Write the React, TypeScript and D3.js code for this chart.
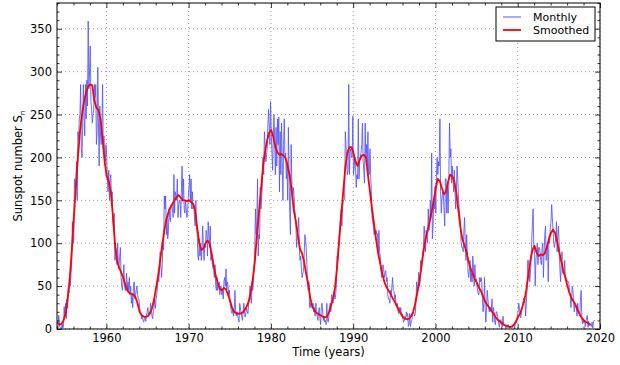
import React, { useRef, useEffect } from "react";
import * as d3 from "d3";

const W = 620;
const H = 365;
const plot = { left: 57, right: 600, top: 3, bottom: 329 };

const startYear = 1954;

// monthly mean sunspot number, one row per year, from Jan 1954
const monthly = [
  0.3, 1.0, 16.0, 7.3, 2.1, 0.8, 0.3, 6.3, 0.9, 3.5, 25.9, 14.9,
  30, 12, 35, 24, 50, 42, 60, 50, 66, 80, 125, 100,
  105, 175, 165, 170, 195, 150, 230, 220, 245, 250, 285, 210,
  200, 240, 285, 245, 225, 285, 245, 290, 260, 359, 280, 300,
  330, 265, 255, 240, 250, 255, 285, 270, 285, 215, 230, 305,
  240, 190, 260, 225, 215, 235, 285, 210, 225, 205, 195, 215,
  200, 175, 160, 185, 150, 175, 180, 145, 160, 125, 120, 135,
  80, 95, 90, 75, 100, 70, 75, 85, 95, 60, 50, 45,
  60, 75, 50, 45, 50, 65, 45, 55, 45, 60, 40, 50,
  30, 40, 25, 50, 55, 35, 40, 45, 50, 40, 35, 35,
  25, 20, 18, 12, 15, 10, 8, 12, 15, 9, 16, 20,
  25, 15, 20, 18, 30, 25, 15, 12, 20, 25, 35, 24,
  35, 40, 50, 60, 55, 70, 90, 75, 60, 75, 100, 92,
  155, 140, 155, 110, 130, 105, 115, 140, 130, 125, 145, 145,
  140, 130, 180, 135, 160, 155, 150, 175, 130, 145, 150, 150,
  130, 165, 190, 150, 175, 140, 135, 150, 140, 130, 135, 153,
  165, 180, 150, 175, 140, 160, 140, 145, 130, 120, 150, 121,
  110, 85, 80, 105, 85, 100, 80, 95, 120, 95, 80, 98,
  95, 115, 110, 85, 125, 110, 95, 120, 80, 90, 75, 71,
  70, 60, 75, 50, 45, 60, 45, 50, 55, 40, 50, 49,
  40, 45, 35, 55, 60, 50, 70, 45, 55, 50, 40, 45,
  30, 25, 20, 18, 25, 15, 20, 45, 22, 15, 20, 15,
  12, 8, 30, 25, 18, 15, 10, 20, 30, 20, 14, 19,
  25, 20, 18, 30, 35, 50, 35, 30, 55, 45, 55, 74,
  95, 140, 110, 125, 175, 85, 110, 105, 165, 140, 155, 167,
  200, 180, 230, 215, 195, 200, 210, 235, 256, 240, 215, 265,
  230, 205, 185, 225, 250, 220, 180, 235, 190, 245, 215, 247,
  160, 230, 180, 240, 195, 150, 215, 245, 200, 205, 175, 192,
  150, 235, 180, 135, 110, 215, 175, 150, 165, 160, 140, 134,
  120, 95, 110, 115, 130, 95, 80, 85, 70, 60, 65, 67,
  85, 110, 105, 95, 75, 50, 45, 55, 25, 30, 25, 26,
  25, 30, 20, 25, 15, 30, 20, 15, 10, 20, 25, 12,
  5, 25, 30, 20, 10, 15, 8, 10, 5, 30, 12, 8,
  15, 25, 30, 20, 40, 35, 30, 40, 45, 35, 40, 52,
  85, 80, 100, 110, 120, 130, 140, 120, 140, 150, 150, 151,
  230, 215, 195, 180, 185, 285, 180, 205, 210, 200, 200, 248,
  180, 190, 200, 185, 165, 180, 175, 245, 175, 200, 200, 206,
  215, 240, 195, 185, 170, 240, 200, 215, 190, 230, 180, 180,
  210, 180, 160, 130, 125, 120, 110, 115, 110, 115, 110, 111,
  90, 115, 90, 85, 70, 60, 65, 75, 70, 60, 65, 68,
  55, 60, 40, 35, 35, 30, 45, 40, 50, 60, 45, 44,
  35, 40, 30, 25, 30, 20, 18, 25, 20, 25, 15, 18,
  12, 8, 10, 15, 12, 20, 15, 18, 3, 5, 18, 3,
  8, 10, 15, 20, 20, 15, 18, 30, 55, 40, 50, 66,
  50, 55, 80, 70, 80, 90, 95, 120, 110, 90, 115, 105,
  100, 140, 115, 120, 150, 130, 205, 105, 120, 150, 140, 166,
  135, 180, 200, 180, 195, 190, 245, 160, 135, 150, 160, 157,
  140, 120, 175, 175, 135, 170, 135, 175, 240, 200, 210, 170,
  190, 175, 160, 185, 160, 140, 160, 190, 175, 155, 140, 133,
  120, 100, 95, 95, 90, 115, 130, 100, 80, 110, 90, 67,
  60, 70, 80, 55, 65, 55, 85, 70, 50, 75, 60, 59,
  50, 45, 40, 40, 60, 55, 60, 55, 35, 20, 30, 60,
  25, 8, 25, 45, 35, 25, 20, 25, 25, 20, 35, 8,
  25, 20, 8, 5, 20, 20, 15, 10, 5, 2, 10, 11,
  5, 3, 15, 5, 4, 5, 1, 1, 2, 5, 5, 1,
  2, 2, 1, 1, 3, 5, 5, 0, 7, 7, 7, 18,
  20, 30, 25, 15, 13, 20, 25, 30, 36, 35, 35, 15,
  30, 45, 80, 80, 70, 55, 65, 80, 105, 125, 140, 95,
  90, 50, 80, 90, 100, 75, 95, 95, 90, 80, 75, 94,
  100, 60, 90, 110, 120, 80, 90, 100, 55, 105, 100, 118,
  125, 145, 130, 115, 100, 95, 100, 105, 125, 90, 110, 120,
  95, 70, 55, 75, 90, 65, 65, 65, 80, 60, 60, 58,
  55, 55, 55, 40, 40, 25, 35, 50, 45, 30, 20, 28,
  25, 25, 15, 30, 20, 20, 15, 35, 45, 12, 6, 12,
  7, 10, 3, 9, 13, 16, 2, 9, 4, 4, 6, 3,
  8, 1, 9, 10, 10,
];

// 13-month smoothed, read every 3 months (Jan, Apr, Jul, Oct), from Jan 1954
const smoothed = [
  8, 5, 6, 10,
  18, 35, 58, 90,
  130, 165, 200, 230,
  250, 266, 276, 283,
  285, 284, 266, 258,
  255, 245, 222, 195,
  178, 172, 160, 132,
  100, 80, 72, 66,
  60, 52, 45, 42,
  41, 40, 37, 30,
  20, 16, 14.5, 14.2,
  15, 18, 24, 34,
  48, 62, 80, 98,
  115, 128, 136, 142,
  146, 150, 154, 156,
  153, 150, 150, 149,
  150, 148, 146, 138,
  118, 100, 92, 94,
  100, 103, 100, 88,
  74, 62, 54, 47,
  45, 48, 46, 40,
  33, 24, 20, 18.5,
  17.8, 18, 19, 22,
  26, 32, 42, 58,
  78, 108, 135, 162,
  190, 207, 220, 229,
  232, 224, 212, 206,
  203, 204, 202, 199,
  190, 178, 160, 138,
  125, 108, 93, 88,
  78, 64, 52, 36,
  26, 21, 19, 17,
  16, 14.5, 13.5, 14,
  19, 27, 35, 48,
  72, 102, 132, 160,
  188, 205, 212, 212,
  205, 195, 190, 197,
  202, 203, 200, 180,
  160, 140, 122, 104,
  88, 76, 64, 55,
  49, 45, 41, 36,
  32, 27, 22, 18,
  14, 12, 11.2, 12,
  15, 20, 30, 42,
  55, 72, 90, 105,
  115, 125, 137, 150,
  165, 175, 172, 164,
  157, 160, 172, 180,
  178, 172, 158, 138,
  118, 104, 97, 89,
  78, 70, 64, 58,
  54, 48, 44, 38,
  32, 28, 25, 21,
  18, 14, 11, 9,
  7, 5, 4, 3,
  2.2, 3, 5, 9,
  14, 18, 25, 33,
  45, 63, 80, 92,
  97, 89, 85, 87,
  86, 88, 96, 105,
  112, 116, 112, 102,
  90, 79, 68, 60,
  50, 42, 36, 32,
  28, 22, 17, 13,
  10, 8, 7, 5,
];

const xTicks = [1960, 1970, 1980, 1990, 2000, 2010, 2020];
const yTicks = [0, 50, 100, 150, 200, 250, 300, 350];

const FONT = "DejaVu Sans, sans-serif";

export default function App() {
  const axesRef = useRef<SVGGElement>(null);

  const x = d3.scaleLinear().domain([1954, 2020]).range([plot.left, plot.right]);
  const y = d3.scaleLinear().domain([0, 380]).range([plot.bottom, plot.top]);

  const monthlyPts: [number, number][] = monthly.map((v, i) => [startYear + (i + 0.5) / 12, v]);
  const smoothPts: [number, number][] = smoothed.map((v, i) => [startYear + (i * 3 + 0.5) / 12, v]);

  const line = d3
    .line<[number, number]>()
    .x((d) => x(d[0]))
    .y((d) => y(d[1]));

  useEffect(() => {
    const g = d3.select(axesRef.current);
    g.selectAll("*").remove();

    const xMinor = d3.range(1954, 2021, 2).filter((v) => v % 10 !== 0);
    const yMinor = d3.range(0, 381, 10).filter((v) => v % 50 !== 0);

    const bottom = g
      .append("g")
      .attr("transform", `translate(0,${plot.bottom})`)
      .call(d3.axisBottom(x).tickValues(xTicks).tickFormat(d3.format("d")).tickSize(-5).tickPadding(5));
    g.append("g")
      .attr("transform", `translate(0,${plot.bottom})`)
      .call(d3.axisBottom(x).tickValues(xMinor).tickFormat(() => "").tickSize(-2.5));
    g.append("g")
      .attr("transform", `translate(0,${plot.top})`)
      .call(d3.axisTop(x).tickValues(xTicks).tickFormat(() => "").tickSize(-5));
    g.append("g")
      .attr("transform", `translate(0,${plot.top})`)
      .call(d3.axisTop(x).tickValues(xMinor).tickFormat(() => "").tickSize(-2.5));

    const left = g
      .append("g")
      .attr("transform", `translate(${plot.left},0)`)
      .call(d3.axisLeft(y).tickValues(yTicks).tickSize(-5).tickPadding(5));
    g.append("g")
      .attr("transform", `translate(${plot.left},0)`)
      .call(d3.axisLeft(y).tickValues(yMinor).tickFormat(() => "").tickSize(-2.5));
    g.append("g")
      .attr("transform", `translate(${plot.right},0)`)
      .call(d3.axisRight(y).tickValues(yTicks).tickFormat(() => "").tickSize(-5));
    g.append("g")
      .attr("transform", `translate(${plot.right},0)`)
      .call(d3.axisRight(y).tickValues(yMinor).tickFormat(() => "").tickSize(-2.5));

    g.selectAll(".domain").remove();
    g.selectAll(".tick line").attr("stroke", "#000").attr("stroke-width", 0.8);
    [bottom, left].forEach((a) =>
      a.selectAll("text").attr("font-family", FONT).attr("font-size", 11.5).attr("fill", "#000")
    );
  }, []);

  return (
    <div style={{ position: "absolute", left: 0, top: 0 }}>
      <svg width={W} height={H} style={{ display: "block", background: "#fff" }}>
        <defs>
          <clipPath id="plotArea">
            <rect x={plot.left} y={plot.top} width={plot.right - plot.left} height={plot.bottom - plot.top} />
          </clipPath>
        </defs>
        <rect x={0} y={0} width={W} height={H} fill="#fff" />

        {/* grid */}
        <g stroke="#808080" strokeWidth={0.8} strokeDasharray="1,3">
          {xTicks.map((t) => (
            <line key={"gx" + t} x1={x(t)} x2={x(t)} y1={plot.top} y2={plot.bottom} />
          ))}
          {yTicks.map((t) => (
            <line key={"gy" + t} x1={plot.left} x2={plot.right} y1={y(t)} y2={y(t)} />
          ))}
        </g>

        <g clipPath="url(#plotArea)">
          <path d={line(monthlyPts) || ""} fill="none" stroke="#5555ff" strokeWidth={1} strokeOpacity={0.85} />
          <path d={line(smoothPts) || ""} fill="none" stroke="#ff0000" strokeWidth={1.8} strokeLinejoin="round" />
        </g>

        <g ref={axesRef} />

        <rect
          x={plot.left}
          y={plot.top}
          width={plot.right - plot.left}
          height={plot.bottom - plot.top}
          fill="none"
          stroke="#000"
          strokeWidth={1}
        />

        {/* legend */}
        <g fontFamily={FONT} fontSize={11}>
          <rect x={496} y={7} width={99} height={34} fill="#fff" stroke="#000" strokeWidth={1} />
          <line x1={503} x2={521} y1={17} y2={17} stroke="#5555ff" strokeWidth={1} />
          <text x={533} y={17} dy="0.35em">Monthly</text>
          <line x1={503} x2={521} y1={30} y2={30} stroke="#ff0000" strokeWidth={1.8} />
          <text x={533} y={30} dy="0.35em">Smoothed</text>
        </g>

        {/* axis labels */}
        <text x={(plot.left + plot.right) / 2} y={356} textAnchor="middle" fontFamily={FONT} fontSize={11.5}>
          Time (years)
        </text>
        <text
          transform={`translate(22,${(plot.top + plot.bottom) / 2}) rotate(-90)`}
          textAnchor="middle"
          fontFamily={FONT}
          fontSize={11.5}
        >
          Sunspot number S
          <tspan fontSize={7.5} dy={3}>n</tspan>
        </text>
      </svg>
    </div>
  );
}
